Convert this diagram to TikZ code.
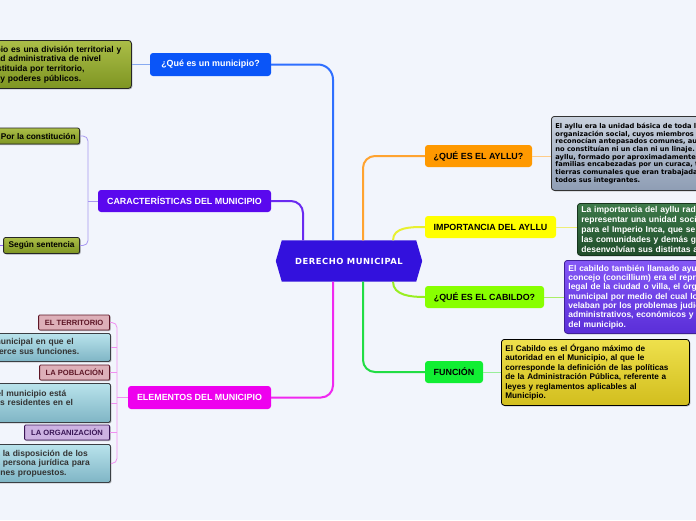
\documentclass[tikz,border=0pt]{standalone}
\usepackage{fontspec}
\setmainfont{Liberation Sans}
\newfontfamily\dejavu{DejaVu Sans}
\newfontfamily\dejavusp[LetterSpace=6]{DejaVu Sans}
\usetikzlibrary{shadows}
\pgfdeclarelayer{back}
\pgfsetlayers{back,main}
\definecolor{bgc}{HTML}{F2F5FC}
\definecolor{rootc}{HTML}{3311DD}
\definecolor{qmunc}{HTML}{0A55F8}
\definecolor{caracc}{HTML}{5A08EE}
\definecolor{elemc}{HTML}{EE00EE}
\definecolor{ayllc}{HTML}{FF9900}
\definecolor{impoc}{HTML}{FFFF00}
\definecolor{cabic}{HTML}{88FF00}
\definecolor{funcc}{HTML}{11EE33}
\definecolor{lnblue}{HTML}{2F6FFF}
\definecolor{lnpurp}{HTML}{6A2AF0}
\definecolor{lnmag}{HTML}{F028F0}
\definecolor{lnorg}{HTML}{FFA330}
\definecolor{lnyel}{HTML}{E8F030}
\definecolor{lnlgr}{HTML}{99EE22}
\definecolor{lngrn}{HTML}{22DD44}
\definecolor{thblue}{HTML}{88AAF0}
\definecolor{thpurp}{HTML}{A898F0}
\definecolor{thpink}{HTML}{F090F0}
\definecolor{thorg}{HTML}{FFCC88}
\definecolor{thyel}{HTML}{EEEE77}
\definecolor{thlgr}{HTML}{AAEE66}
\definecolor{thgrn}{HTML}{99EE99}
\definecolor{olivetop}{HTML}{ABBE48}
\definecolor{olivebot}{HTML}{7E9522}
\definecolor{lbtop}{HTML}{B9E3EC}
\definecolor{lbbot}{HTML}{7FB5C5}
\definecolor{pinkfill}{HTML}{DDAFB8}
\definecolor{pinkdark}{HTML}{5E1626}
\definecolor{lavfill}{HTML}{CDB2E2}
\definecolor{lavdark}{HTML}{3A1656}
\definecolor{aytop}{HTML}{C9D1DD}
\definecolor{aybot}{HTML}{8E9DB4}
\definecolor{grtop}{HTML}{3E7A4A}
\definecolor{grbot}{HTML}{1F4C2A}
\definecolor{putop}{HTML}{8558F6}
\definecolor{pubot}{HTML}{5A2ED8}
\definecolor{yetop}{HTML}{EEE04C}
\definecolor{yebot}{HTML}{D2BE1E}
\tikzset{
  lbl/.style={rounded corners=3pt, minimum height=22pt, inner sep=0pt,
    font=\bfseries\fontsize{8.9}{10}\selectfont, text=black},
  shad/.style={drop shadow={shadow xshift=1pt, shadow yshift=-1pt, opacity=0.3, fill=black}},
  body/.style={anchor=north west, inner xsep=4pt, inner ysep=0pt, align=left,
    font=\bfseries\fontsize{8.5}{9.6}\selectfont, rounded corners=3pt, line width=0.8pt, shad},
  olivebox/.style={body, draw=black!85, top color=olivetop, bottom color=olivebot, text=black},
  bluebox/.style={body, draw=black!60!cyan!40!black, top color=lbtop, bottom color=lbbot, text=black!80, rounded corners=1.5pt},
  oliveleaf/.style={anchor=east, shad, draw=black!85, line width=0.8pt, rounded corners=2pt,
    top color=olivetop, bottom color=olivebot, minimum height=16pt, inner xsep=4pt, inner ysep=0pt,
    font=\bfseries\fontsize{8.3}{9}\selectfont},
  sublbl/.style={anchor=east, shad, line width=0.8pt, rounded corners=1pt, minimum height=15pt,
    inner sep=0pt, font=\bfseries\fontsize{7.6}{8}\selectfont},
  pinkl/.style={sublbl, draw=pinkdark, fill=pinkfill, text=pinkdark},
  lavl/.style={sublbl, draw=lavdark, fill=lavfill, text=lavdark},
  conn/.style={line width=2pt},
  twig/.style={line width=0.8pt}
}
\begin{document}
\begin{tikzpicture}[x=1pt,y=-1pt]
\useasboundingbox (0,0) rectangle (696,520);
\begin{pgfonlayer}{back}
\fill[bgc] (0,0) rectangle (696,520);
\end{pgfonlayer}
\clip (0,0) rectangle (696,520);

% central node
\node[font=\dejavusp\bfseries\fontsize{8.4}{10}\selectfont, text=white, minimum width=146pt,
  minimum height=41pt, inner sep=0pt] (root) at (349,261) {DERECHO MUNICIPAL};
\begin{pgfonlayer}{back}
\fill[rootc] (root.west) -- ([xshift=6pt]root.north west) -- ([xshift=-6pt]root.north east)
  -- (root.east) -- ([xshift=-6pt]root.south east) -- ([xshift=6pt]root.south west) -- cycle;
\end{pgfonlayer}

% first level nodes
\node[lbl, fill=qmunc, text=white, minimum width=121pt, minimum height=23pt] (qmun) at (210.5,64.5) {¿Qué es un municipio?};
\node[lbl, fill=caracc, text=white, minimum width=173pt] (carac) at (184.5,201) {CARACTERÍSTICAS DEL MUNICIPIO};
\node[lbl, fill=elemc, text=white, minimum width=143pt, minimum height=23pt] (elem) at (199.5,397.5) {ELEMENTOS DEL MUNICIPIO};
\node[lbl, fill=ayllc, minimum width=107pt] (ayll) at (478.5,156) {¿QUÉ ES EL AYLLU?};
\node[lbl, fill=impoc, minimum width=131pt] (impo) at (490.5,227) {IMPORTANCIA DEL AYLLU};
\node[lbl, fill=cabic, minimum width=119pt] (cabi) at (484.5,297) {¿QUÉ ES EL CABILDO?};
\node[lbl, fill=funcc, minimum width=58pt] (func) at (454,372) {FUNCIÓN};

% left boxes
\node[olivebox, text width=170pt, minimum height=48pt] (defbox) at (-47,40)
  {El municipio es una división territorial y\\una entidad administrativa de nivel\\local, constituida por territorio,\\población y poderes públicos.};
\node[oliveleaf] (const) at (80,136) {Por la constitución};
\node[oliveleaf, minimum width=76pt] (sent) at (80,245.5) {Según sentencia};

\node[pinkl, minimum width=71pt] (terr) at (110,322.5) {EL TERRITORIO};
\node[bluebox, text width=148.5pt, minimum height=28pt] (box1) at (-46.5,333)
  {Espacio municipal en que el\\alcaldía ejerce sus funciones.};
\node[pinkl, minimum width=70pt] (pobl) at (110,372.5) {LA POBLACIÓN};
\node[bluebox, text width=144pt, minimum height=39pt] (box2) at (-42,383)
  {Censo del municipio está\\siendo los residentes en el\\mismo.};
\node[lavl, minimum width=85pt] (orga) at (110,432.5) {LA ORGANIZACIÓN};
\node[bluebox, text width=147pt, minimum height=38pt] (box3) at (-45,444)
  {Puestos a la disposición de los\\como una persona jurídica para\\para los fines propuestos.};

% right boxes
\node[body, draw=black!80, top color=aytop, bottom color=aybot, text=black, text width=220pt,
  minimum height=74pt, font=\dejavu\bfseries\fontsize{6.7}{7.7}\selectfont] (aybox) at (551,116)
  {El ayllu era la unidad básica de toda la\\organización social, cuyos miembros se\\reconocían antepasados comunes, aunque\\no constituían ni un clan ni un linaje. El\\ayllu, formado por aproximadamente cien\\familias encabezadas por un curaca, tenía\\tierras comunales que eran trabajadas por\\todos sus integrantes.};
\node[body, draw=grbot!70!black, top color=grtop, bottom color=grbot, text=white, text width=220pt,
  minimum height=52pt, font=\bfseries\fontsize{8.5}{9.9}\selectfont] (grbox) at (577,203)
  {La importancia del ayllu radica en\\representar una unidad social básica\\para el Imperio Inca, que se refería a\\las comunidades y demás grupos que\\desenvolvían sus distintas actividades.};
\node[body, draw=pubot!70!black, top color=putop, bottom color=pubot, text=white, text width=220pt,
  minimum height=73pt, font=\bfseries\fontsize{8.5}{9.3}\selectfont] (pubox) at (564,260)
  {El cabildo también llamado ayuntamiento o\\concejo (concillium) era el representante\\legal de la ciudad o villa, el órgano\\municipal por medio del cual los vecinos\\velaban por los problemas judiciales,\\administrativos, económicos y militares\\del municipio.};
\node[body, draw=black, top color=yetop, bottom color=yebot, text=black, text width=180pt,
  minimum height=66pt, font=\bfseries\fontsize{8.2}{9.5}\selectfont] (yebox) at (501,339)
  {El Cabildo es el Órgano máximo de\\autoridad en el Municipio, al que le\\corresponde la definición de las políticas\\de la Administración Pública, referente a\\leyes y reglamentos aplicables al\\Municipio.};

% helper coordinates
\coordinate (cb) at (88,0);
\coordinate (eb) at (117,0);
\coordinate (sentl) at (-8,0);

% main connectors
\draw[conn, lnblue, rounded corners=15pt] ([xshift=-16pt]root.north) |- (qmun.east);
\draw[conn, lnpurp, rounded corners=12pt] ([xshift=-46pt]root.north) |- (carac.east);
\draw[conn, lnorg, rounded corners=12pt] ([xshift=14pt]root.north) |- (ayll.west);
\draw[conn, lnyel] ([xshift=44pt]root.north) to[out=90,in=180] (impo.west);
\draw[conn, lnlgr] ([xshift=44pt]root.south) to[out=-90,in=180] (cabi.west);
\draw[conn, lngrn, rounded corners=12pt] ([xshift=14pt]root.south) |- (func.west);
\draw[conn, lnmag, rounded corners=12pt] ([xshift=-16pt]root.south) |- (elem.east);

% secondary connectors
\draw[twig, thblue] (qmun.west) -- (qmun.west -| defbox.east);
\draw[twig, thpurp, rounded corners=5pt] (const.east) -| (cb |- sent.east) -- (sent.east);
\draw[twig, thpurp] (carac.west) -- (carac.west -| cb);
\draw[twig, lnpurp!70] (sent.west) -- (sent.west -| sentl);
\draw[twig, thpink, rounded corners=5pt] (terr.east) -| (eb |- box3.east) -- (box3.east);
\draw[twig, thpink] (box1.east) -- (box1.east -| eb);
\draw[twig, thpink] (pobl.east) -- (pobl.east -| eb);
\draw[twig, thpink] (box2.east) -- (box2.east -| eb);
\draw[twig, thpink] (orga.east) -- (orga.east -| eb);
\draw[twig, thpink] (elem.west) -- (elem.west -| eb);
\draw[twig, thorg] (ayll.east) -- (ayll.east -| aybox.west);
\draw[twig, thyel] (impo.east) -- (impo.east -| grbox.west);
\draw[twig, thlgr] (cabi.east) -- (cabi.east -| pubox.west);
\draw[twig, thgrn] (func.east) -- (func.east -| yebox.west);
\end{tikzpicture}
\end{document}
